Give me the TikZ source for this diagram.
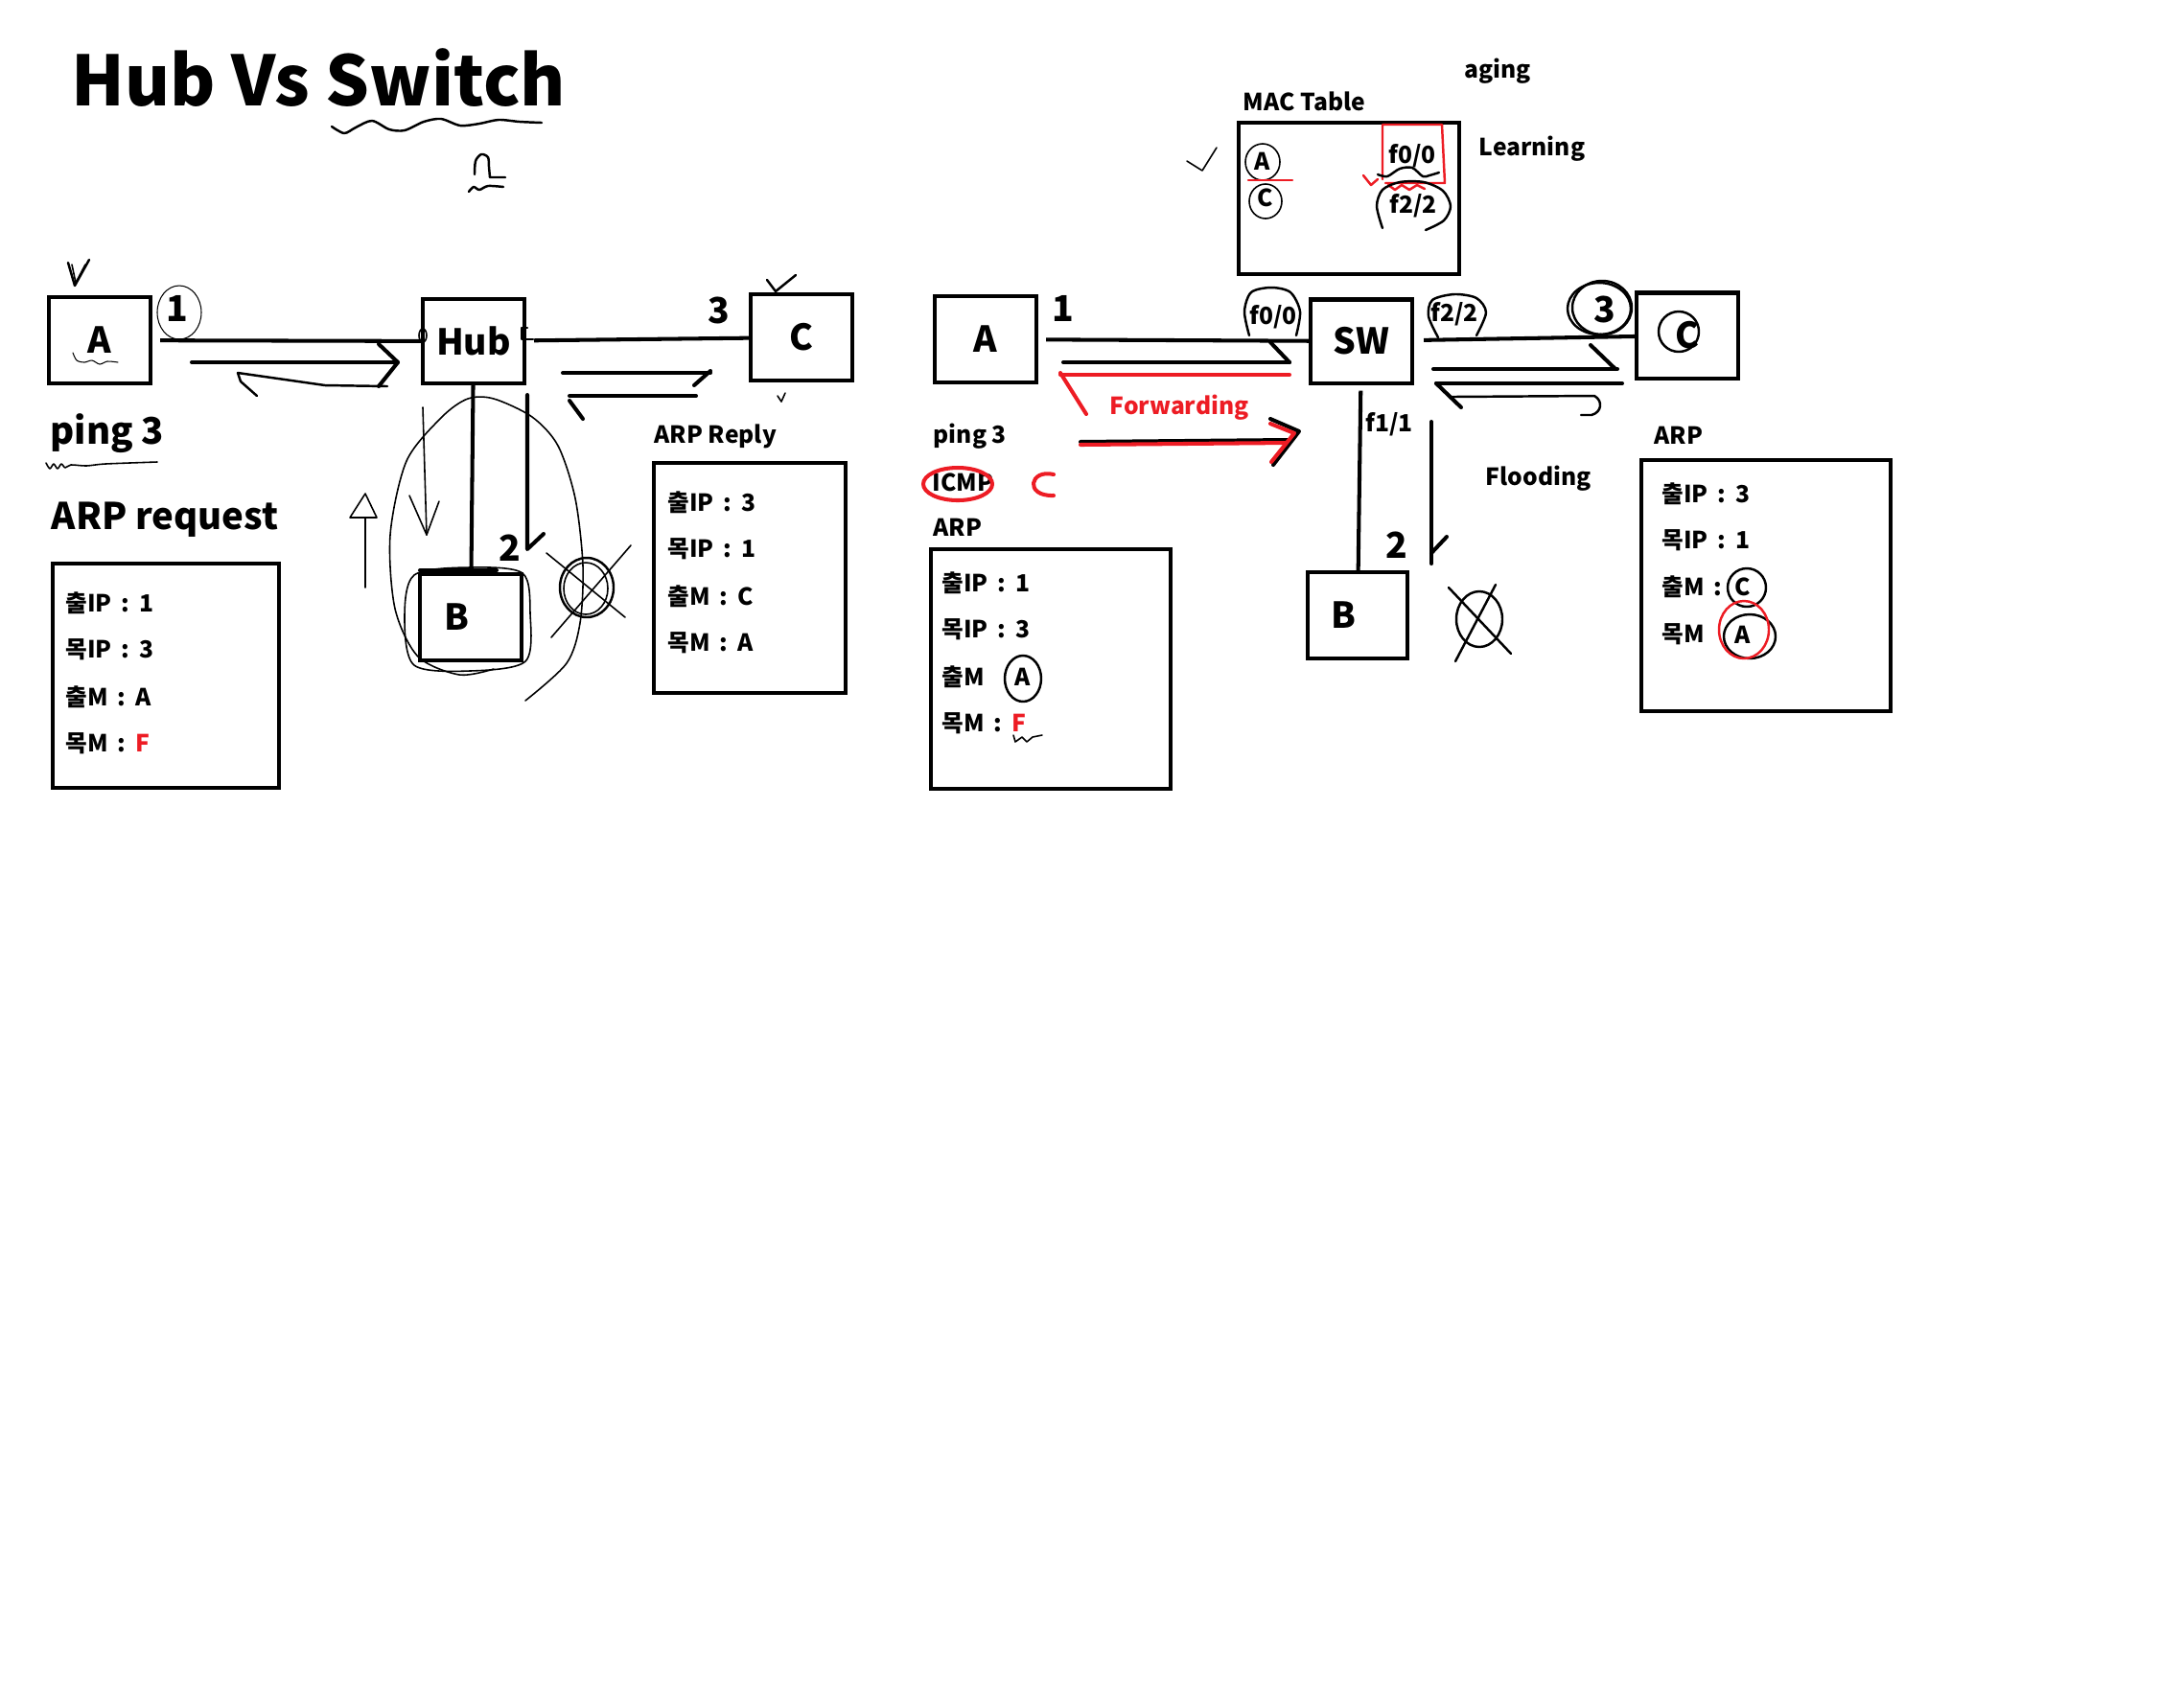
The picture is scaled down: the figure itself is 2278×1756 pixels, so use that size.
\documentclass[tikz,border=0pt]{standalone}
\usepackage{fontspec}
\setmainfont{Noto Sans CJK KR}
\usepackage{tikz}
\usepackage{xcolor}
\definecolor{paintred}{RGB}{237,28,36}
\newcommand{\sepcolon}{\hspace{0.4em}:\hspace{0.4em}}

\begin{document}
\begin{tikzpicture}[x=0.01cm,y=-0.01cm]
  \tikzset{devicebox/.style={draw=black,line width=1.15pt,inner sep=0pt,minimum width=1.06cm,minimum height=0.9cm,font=\bfseries\fontsize{10.6}{12}\selectfont}}
  \tikzset{tablebox/.style={draw=black,line width=1.15pt,inner sep=0pt}}
  \tikzset{bignum/.style={font=\bfseries\fontsize{10.6}{12}\selectfont,inner sep=0pt,anchor=base}}
  \tikzset{midtext/.style={font=\bfseries\fontsize{10.9}{12}\selectfont,inner sep=0pt,anchor=base west}}
  \tikzset{smalltext/.style={font=\bfseries\fontsize{7}{8}\selectfont,inner sep=0pt,anchor=base west}}
  \tikzset{portlabel/.style={font=\bfseries\fontsize{7}{8}\selectfont,inner sep=0pt,anchor=base}}
  \tikzset{entry/.style={font=\bfseries\fontsize{7}{8}\selectfont,inner sep=0pt,anchor=west}}
  \tikzset{link/.style={draw=black,line width=1.15pt}}
  \tikzset{pen/.style={draw=black,line width=1.15pt,line cap=round,line join=round}}
  \tikzset{midpen/.style={draw=black,line width=0.7pt,line cap=round,line join=round}}
  \tikzset{thinpen/.style={draw=black,line width=0.45pt,line cap=round,line join=round}}
  \tikzset{hairpen/.style={draw=black,line width=0.3pt,line cap=round,line join=round}}
  \tikzset{redpen/.style={draw=paintred,line width=1.15pt,line cap=round,line join=round}}
  \tikzset{redmid/.style={draw=paintred,line width=0.7pt,line cap=round,line join=round}}
  \fill[white] (0,0) rectangle (2278,1756);
  \useasboundingbox (0,0) rectangle (2278,1756);
  \node[font=\bfseries\fontsize{20.5}{24}\selectfont,anchor=base west,inner sep=0pt] (title) at (74,110) {Hub Vs Switch};
  \draw[midpen] plot[smooth] coordinates {(346,132) (359,139) (371,133) (388,126) (406,135) (422,136) (442,127) (460,124) (480,131) (500,129) (520,125) (542,127) (565,128)};
  \draw[midpen] plot[smooth] coordinates {(495,182) (496,168) (502,161) (509,164) (510,174) (511,185)} -- (527,185);
  \draw[midpen] plot[smooth] coordinates {(489,200) (494,195) (500,198) (509,194) (525,195)};
  \node[devicebox] (hostA) at (104,355) {A};
  \node[devicebox,minimum height=0.88cm] (hub) at (494,356) {Hub};
  \node[devicebox] (hostC) at (836,352) {C};
  \node[devicebox] (hostB) at (491,644) {\makebox[0pt]{\hspace*{-0.3cm}B}};
  \draw[link,shorten <=0.08cm] (hostA) -- (hub);
  \draw[link,shorten <=0.08cm] (hub) -- (hostC);
  \draw[link] (hub) -- (hostB);
  \node[bignum] (stepa) at (185,335) {1};
  \node[bignum] (stepc) at (750,337) {3};
  \node[bignum] (stepb) at (532,585) {2};
  \draw[hairpen] (187,326) ellipse [x radius=23, y radius=28];
  \draw[midpen] (71,274) -- (78,298) -- (93,271);
  \draw[thinpen] (75,276) -- (79,295) -- (89,276);
  \draw[hairpen] plot[smooth] coordinates {(76,368) (80,376) (88,378) (96,376) (104,380) (112,377) (123,378)};
  \draw[thinpen] (441,350) ellipse [x radius=4, y radius=7];
  \draw[midpen] (550,342) -- (544,342) -- (544,354) -- (556,354);
  \draw[pen] (200,378) -- (415,378);
  \draw[pen] (395,359) -- (415,378) -- (395,403);
  \draw[midpen] (404,403) -- (339,402) -- (255,390) -- (248,389) -- (251,398) -- (268,413);
  \draw[midpen] (800,292) -- (809,304) -- (830,287);
  \draw[thinpen] (811,413) -- (815,419) -- (819,410);
  \draw[pen] (587,389) -- (741,389);
  \draw[pen] (741,387) -- (724,402);
  \draw[pen] (594,413) -- (726,413);
  \draw[pen] (594,418) -- (608,437);
  \draw[thinpen] (441,425) -- (445,558);
  \draw[thinpen] (427,517) -- (445,558) -- (458,523);
  \draw[pen] (550,412) -- (550,573) -- (567,557);
  \draw[thinpen] (381,613) -- (381,540);
  \draw[thinpen] (365,540) -- (381,515) -- (393,540) -- cycle;
  \draw[thinpen] plot[smooth] coordinates {(515,698) (479,704) (436,685) (412,635) (407,558) (424,481) (461,435) (488,416) (515,416) (555,435) (582,465) (600,520) (608,590) (605,650) (591,692) (548,731)};
  \draw[thinpen] plot[smooth cycle] coordinates {(432,600) (490,592) (545,598) (553,640) (548,690) (490,700) (432,694) (422,645)};
  \draw[pen] (438,595) -- (518,595);
  \draw[midpen] (612,613) ellipse [x radius=28, y radius=31];
  \draw[thinpen] (611,614) ellipse [x radius=23, y radius=27];
  \draw[thinpen] (570,577) -- (652,644);
  \draw[thinpen] (658,569) -- (575,665);
  \node[midtext] (pingleft) at (52,463) {ping 3};
  \draw[thinpen] plot[smooth] coordinates {(48,483) (52,489) (56,484) (60,489) (64,484) (68,488) (74,485) (90,486) (110,484) (164,482)};
  \node[midtext] (arpreq) at (53,552) {ARP request};
  \node[tablebox,minimum width=2.36cm,minimum height=2.33cm] (reqtable) at (173,705) {};
  \node[entry] (reqsip) at (68,629) {출IP\sepcolon 1};
  \node[entry] (reqdip) at (68,678) {목IP\sepcolon 3};
  \node[entry] (reqsm) at (68,727) {출M\sepcolon A};
  \node[entry] (reqdm) at (68,776) {목M\sepcolon\textcolor{paintred}{F}};
  \node[smalltext] (arprep) at (682,462) {ARP Reply};
  \node[tablebox,minimum width=2.0cm,minimum height=2.4cm] (reptable) at (782,603) {};
  \node[entry] (repsip) at (696,524) {출IP\sepcolon 3};
  \node[entry] (repdip) at (696,573) {목IP\sepcolon 1};
  \node[entry] (repsm) at (696,622) {출M\sepcolon C};
  \node[entry] (repdm) at (696,671) {목M\sepcolon A};
  \node[devicebox] (swA) at (1028,354) {A};
  \node[devicebox,minimum height=0.87cm] (sw) at (1420,356) {SW};
  \node[devicebox,minimum height=0.89cm] (swC) at (1760,350) {C};
  \node[devicebox,minimum width=1.04cm] (swB) at (1416,642) {\makebox[0pt]{\hspace*{-0.3cm}B}};
  \draw[link,shorten <=0.08cm] (swA) -- (sw);
  \draw[link,shorten <=0.1cm] (sw) -- (swC);
  \draw[link,shorten <=0.06cm] (sw) -- (swB);
  \node[bignum] (swstepa) at (1109,335) {1};
  \node[bignum] (swstepc) at (1674,336) {3};
  \node[bignum] (swstepb) at (1457,582) {2};
  \node[smalltext] (aging) at (1527,81) {aging};
  \node[smalltext] (mactitle) at (1296,115) {MAC Table};
  \node[tablebox,minimum width=2.3cm,minimum height=1.58cm] (mactable) at (1407,207) {};
  \node[smalltext] (learning) at (1542,162) {Learning};
  \draw[thinpen] (1238,168) -- (1254,178) -- (1269,154);
  \node[portlabel] (macA) at (1317,177) {A};
  \node[portlabel] (macC) at (1320,215) {C};
  \node[portlabel] (macfa) at (1473,170) {f0/0};
  \node[portlabel] (macfc) at (1474,222) {f2/2};
  \draw[thinpen] (1317,169) ellipse [x radius=18, y radius=19];
  \draw[redmid] (1302,188) -- (1348,188);
  \draw[thinpen] (1320,210) ellipse [x radius=17, y radius=18];
  \draw[redmid] (1445,191) -- (1507,191) -- (1504,130) -- (1442,130) -- (1442,187);
  \draw[midpen] plot[smooth] coordinates {(1437,182) (1447,184) (1460,176) (1473,175) (1484,184) (1491,183) (1501,180)};
  \draw[redmid] (1422,183) -- (1430,193) -- (1437,187);
  \draw[redmid] (1448,193) -- (1455,198) -- (1462,193) -- (1470,198) -- (1478,193) -- (1486,197);
  \draw[midpen] plot[smooth] coordinates {(1442,238) (1436,215) (1442,198) (1460,190) (1485,190) (1505,199) (1513,215) (1506,230) (1487,240)};
  \node[portlabel] (portfa) at (1328,338) {f0/0};
  \node[portlabel] (portfc) at (1517,335) {f2/2};
  \node[smalltext] (portfb) at (1424,450) {f1/1};
  \draw[midpen] plot[smooth] coordinates {(1303,350) (1298,325) (1305,305) (1326,300) (1346,305) (1356,325) (1352,350)};
  \draw[midpen] plot[smooth] coordinates {(1500,352) (1490,330) (1494,313) (1517,307) (1540,311) (1550,326) (1540,350)};
  \draw[pen] (1109,378) -- (1345,378);
  \draw[pen] (1325,357) -- (1345,378);
  \draw[redpen] (1106,391) -- (1345,391);
  \draw[redpen] (1106,389) -- (1133,432);
  \node[smalltext,text=paintred] (forwarding) at (1157,432) {Forwarding};
  \draw[midpen] (1671,321) ellipse [x radius=31, y radius=28];
  \draw[midpen] (1668,322) ellipse [x radius=33, y radius=27];
  \draw[midpen] (1751,346) ellipse [x radius=21, y radius=21];
  \draw[pen] (1495,385) -- (1687,385);
  \draw[pen] (1659,360) -- (1685,385);
  \draw[pen] (1498,400) -- (1692,400);
  \draw[pen] (1498,400) -- (1524,425);
  \draw[midpen] (1514,414) -- (1663,413) .. controls (1672,418) and (1671,430) .. (1660,433) -- (1649,433);
  \draw[pen] (1493,440) -- (1493,588);
  \draw[pen] (1493,577) -- (1509,560);
  \draw[midpen] (1543,646) ellipse [x radius=24, y radius=29];
  \draw[midpen] (1511,613) -- (1576,682);
  \draw[midpen] (1560,610) -- (1518,690);
  \node[smalltext] (flooding) at (1549,506) {Flooding};
  \node[smalltext] (pingright) at (973,462) {ping 3};
  \draw[pen] (1127,461) -- (1345,459);
  \draw[redpen] (1127,464) -- (1342,462);
  \draw[pen] (1325,437) -- (1355,450) -- (1328,485);
  \draw[redpen] (1325,442) -- (1350,452) -- (1326,482);
  \node[smalltext] (icmp) at (972,512) {ICMP};
  \draw[redpen] (999,505) ellipse [x radius=36, y radius=17];
  \draw[redpen] (1099,495) .. controls (1074,489) and (1068,518) .. (1099,517);
  \node[smalltext] (arpleft) at (973,559) {ARP};
  \node[tablebox,minimum width=2.5cm,minimum height=2.5cm] (swreqtable) at (1096,698) {};
  \node[entry] (swreqsip) at (982,608) {출IP\sepcolon 1};
  \node[entry] (swreqdip) at (982,657) {목IP\sepcolon 3};
  \node[entry] (swreqsm) at (982,706) {출M};
  \node[portlabel,anchor=center] (swreqsa) at (1067,706) {A};
  \node[entry] (swreqdm) at (982,755) {목M\sepcolon\textcolor{paintred}{F}};
  \draw[midpen] (1067,708) ellipse [x radius=19, y radius=24];
  \draw[thinpen] (1057,767) -- (1059,774) -- (1066,769) -- (1071,774) -- (1077,769) -- (1087,767);
  \node[smalltext] (arpright) at (1725,463) {ARP};
  \node[tablebox,minimum width=2.6cm,minimum height=2.61cm] (swreptable) at (1842,611) {};
  \node[entry] (swrepsip) at (1733,515) {출IP\sepcolon 3};
  \node[entry] (swrepdip) at (1733,564) {목IP\sepcolon 1};
  \node[entry] (swrepsm) at (1733,612) {출M\hspace{0.4em}:};
  \node[portlabel,anchor=center] (swrepsc) at (1818,612) {C};
  \node[entry] (swrepdm) at (1733,662) {목M};
  \node[portlabel,anchor=center] (swrepda) at (1818,662) {A};
  \draw[midpen] (1822,613) ellipse [x radius=20, y radius=20];
  \draw[midpen] (1825,664) ellipse [x radius=27, y radius=23];
  \draw[redmid] (1819,657) ellipse [x radius=26, y radius=30];
\end{tikzpicture}
\end{document}
